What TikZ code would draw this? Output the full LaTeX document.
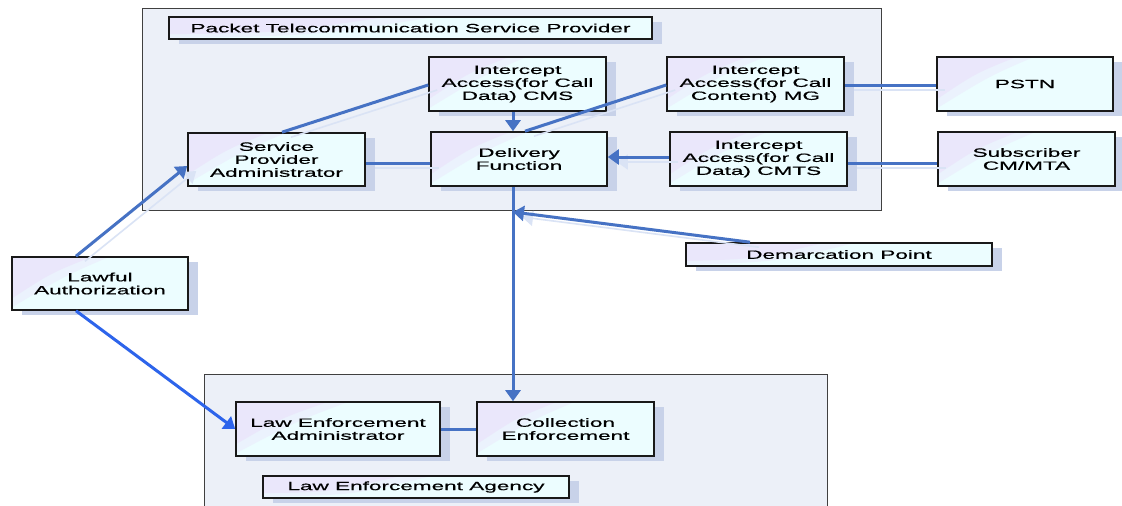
\documentclass[tikz,border=0pt]{standalone}
\usepackage{fontspec}
\setmainfont[FakeStretch=1.88,FakeBold=0.6]{Liberation Sans}
\usetikzlibrary{arrows.meta,shadows,calc}
\definecolor{lc}{RGB}{70,114,196}
\definecolor{lctwo}{RGB}{45,100,235}
\definecolor{ghost}{RGB}{218,227,245}
\definecolor{shadowc}{RGB}{200,210,233}
\definecolor{contfill}{RGB}{236,240,248}
\definecolor{lav}{RGB}{234,231,251}
\definecolor{lavmid}{RGB}{235,242,253}
\definecolor{cy}{RGB}{236,253,255}
\tikzset{
  box/.style={draw=black!90, line width=1.6pt, fill=cy,
    path picture={
      \coordinate (bNW) at (path picture bounding box.north west);
      \coordinate (bNE) at (path picture bounding box.north east);
      \coordinate (bSW) at (path picture bounding box.south west);
      \fill[lavmid] (bNW) -- ($(bNW)!0.55!(bNE)$) .. controls ($(bNW)!0.3!(bNE)+(0,-0.35*54pt)$) .. ($(bNW)!0.95!(bSW)$) -- cycle;
      \fill[lav] (bNW) -- ($(bNW)!0.45!(bNE)$) .. controls ($(bNW)!0.22!(bNE)+(0,-0.3*54pt)$) .. ($(bNW)!0.78!(bSW)$) -- cycle;
    },
    inner sep=0pt, align=center, font=\fontsize{12}{13}\selectfont,
    drop shadow={shadow xshift=10pt, shadow yshift=-5pt, fill=shadowc, opacity=1}},
  cont/.style={draw=black!75, line width=1pt, fill=contfill},
  plain/.style={draw=lc, line width=3pt},
  conn/.style={plain, preaction={draw=ghost, line width=1.6pt, transform canvas={shift={(9pt,-5pt)}}}},
  tip/.style={-{Triangle[length=11pt,width=15pt]}},
  arr/.style={conn, tip},
  parr/.style={plain, tip},
  arrtwo/.style={draw=lctwo, line width=3pt, tip}
}
\begin{document}
\begin{tikzpicture}[x=1pt,y=-1pt]
\useasboundingbox (0,0) rectangle (1122,506);
\clip (0,0) rectangle (1122,506);
\fill[white] (0,0) rectangle (1122,506);
% containers
\draw[cont] (142,8) rectangle (881,210);
\draw[cont] (204,374) rectangle (827,520);
% nodes
\node[box, minimum width=483pt, minimum height=22pt] (title) at (410.5,28) {Packet Telecommunication Service Provider};
\node[box, minimum width=177pt, minimum height=54pt] (cms) at (517.5,84) {Intercept\\Access(for Call\\Data) CMS};
\node[box, minimum width=177pt, minimum height=54pt] (mg) at (755.5,84) {Intercept\\Access(for Call\\Content) MG};
\node[box, minimum width=176pt, minimum height=54pt] (pstn) at (1025,84) {PSTN};
\node[box, minimum width=177pt, minimum height=53pt] (spa) at (276.5,159.5) {Service\\Provider\\Administrator};
\node[box, minimum width=176pt, minimum height=54pt] (df) at (519,159) {Delivery\\Function};
\node[box, minimum width=177pt, minimum height=54pt] (cmts) at (758.5,159) {Intercept\\Access(for Call\\Data) CMTS};
\node[box, minimum width=177pt, minimum height=54pt] (sub) at (1026.5,159) {Subscriber\\CM/MTA};
\node[box, minimum width=306pt, minimum height=23pt] (demarc) at (839,254.5) {Demarcation Point};
\node[box, minimum width=176pt, minimum height=53pt] (lawful) at (100,283.5) {Lawful\\Authorization};
\node[box, minimum width=204pt, minimum height=54pt] (lea) at (338,429) {Law Enforcement\\Administrator};
\node[box, minimum width=177pt, minimum height=54pt] (coll) at (565.5,429) {Collection\\Enforcement};
\node[box, minimum width=306pt, minimum height=22pt] (leag) at (416,487) {Law Enforcement Agency};
\coordinate (dp) at (513,212);
% connectors
\draw[parr] ([xshift=-4.5pt]cms.south) -- ([xshift=-4.5pt]cms.south |- df.north);
\draw[conn] ([yshift=-1pt]mg.west) -- ([xshift=6pt]df.north);
\draw[conn] ([yshift=-1pt]cms.west) -- ([xshift=5.5pt]spa.north);
\draw[conn] ([yshift=-3.5pt]spa.east) -- ([yshift=-3.5pt]spa.east -| df.west);
\draw[arr] ([yshift=2pt]cmts.west) -- ([yshift=2pt]cmts.west -| df.east);
\draw[conn] ([yshift=-1pt]mg.east) -- ([yshift=-1pt]mg.east -| pstn.west);
\draw[conn] ([yshift=-4pt]cmts.east) -- ([yshift=-4pt]cmts.east -| sub.west);
\draw[parr] ([xshift=-6pt]df.south) -- ([xshift=-6pt]df.south |- coll.north);
\draw[arr] ([xshift=-89pt]demarc.north) -- (dp);
\draw[arr] ([xshift=-24pt]lawful.north) -- ([yshift=-6.5pt]spa.west);
\draw[arrtwo] ([xshift=-24pt]lawful.south) -- (lea.west);
\draw[plain] (lea.east) -- (coll.west);
\end{tikzpicture}
\end{document}
